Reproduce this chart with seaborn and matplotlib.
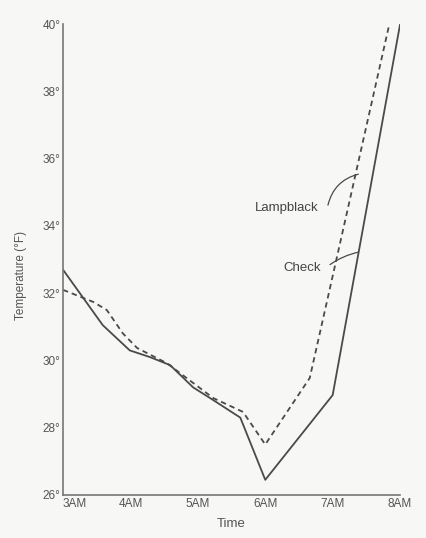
import numpy as np
import pandas as pd
import matplotlib
matplotlib.use("Agg")
import matplotlib.pyplot as plt
import seaborn as sns

# values (time in hours, 3 = 3AM; temperature in deg F)
check_time = [3.0, 3.59, 3.99, 4.29, 4.59, 4.93, 5.23, 5.63, 6.0, 7.0, 8.0]
check_temp = [32.7, 31.05, 30.3, 30.1, 29.86, 29.2, 28.82, 28.3, 26.45, 28.97, 40.0]
lamp_time = [3.0, 3.45, 3.65, 3.89, 4.10, 4.54, 5.23, 5.67, 6.0, 6.66, 7.84]
lamp_temp = [32.1, 31.74, 31.5, 30.8, 30.37, 29.92, 28.88, 28.47, 27.5, 29.48, 40.0]

x_ticks = [3, 4, 5, 6, 7, 8]
x_labels = ["3AM", "4AM", "5AM", "6AM", "7AM", "8AM"]
y_ticks = [26, 28, 30, 32, 34, 36, 38, 40]
y_labels = [f"{v}\u00b0" for v in y_ticks]

df = pd.concat([
    pd.DataFrame({"time": check_time, "temp": check_temp, "series": "Check"}),
    pd.DataFrame({"time": lamp_time, "temp": lamp_temp, "series": "Lampblack"}),
])

sns.set_style("white")
plt.rcParams["font.family"] = ["Liberation Sans", "DejaVu Sans"]

bg = "#f7f7f5"
ink = "#4a4a4a"
fig = plt.figure(figsize=(4.27, 5.38), dpi=100, facecolor=bg)
ax = fig.add_axes([0.1475, 0.080, 0.7895, 0.875], facecolor=bg)

sns.lineplot(data=df, x="time", y="temp", style="series", sort=False,
             dashes={"Check": "", "Lampblack": (3, 2.2)},
             color=ink, linewidth=1.3, legend=False, ax=ax)

ax.set_xlim(3, 8)
ax.set_ylim(26, 40)
ax.set_xticks(x_ticks)
ax.set_xticklabels(x_labels)
ax.set_yticks(y_ticks)
ax.set_yticklabels(y_labels)
ax.tick_params(direction="in", length=5, width=1, color="#777777",
               labelsize=8.5, labelcolor="#555555", pad=2)
ax.get_xticklabels()[0].set_horizontalalignment("left")
for s in ["top", "right"]:
    ax.spines[s].set_visible(False)
for s in ["left", "bottom"]:
    ax.spines[s].set_color("#777777")
    ax.spines[s].set_linewidth(1.2)

ax.set_xlabel("Time", fontsize=9.5, color="#555555", labelpad=6)
ax.set_ylabel("Temperature (\u00b0F)", fontsize=8.5, color="#555555")
ax.yaxis.set_label_coords(-0.107, 0.467)

# callout labels with leader curves
ax.text(6.32, 34.53, "Lampblack", fontsize=9.5, color="#444444",
        ha="center", va="center")
ax.text(6.55, 32.75, "Check", fontsize=9.5, color="#444444",
        ha="center", va="center")
ax.annotate("", xy=(7.38, 35.54), xytext=(6.93, 34.62),
            arrowprops=dict(arrowstyle="-", color=ink, lw=0.9,
                            shrinkA=0, shrinkB=0,
                            connectionstyle="arc3,rad=-0.3"))
ax.annotate("", xy=(7.38, 33.22), xytext=(6.96, 32.85),
            arrowprops=dict(arrowstyle="-", color=ink, lw=0.9,
                            shrinkA=0, shrinkB=0,
                            connectionstyle="arc3,rad=-0.1"))

fig.savefig("out.png", dpi=100, facecolor=bg)
